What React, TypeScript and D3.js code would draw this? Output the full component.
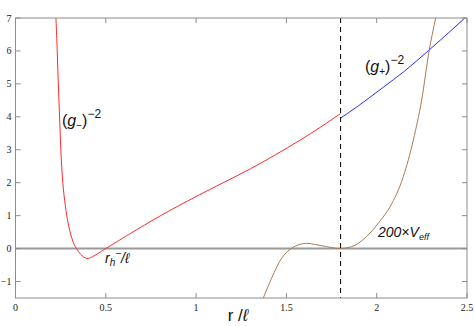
import React, { useMemo } from 'react';
import * as d3 from 'd3';

const W = 475;
const H = 326;
const margin = { left: 15.5, right: 8, top: 18, bottom: 28 };

// r / ℓ values and curve values
const gMinus: [number, number][] = [
  [0.224, 7], [0.231, 6], [0.237, 5], [0.244, 4], [0.251, 3], [0.262, 2],
  [0.276, 1.3], [0.292, 0.75], [0.31, 0.35], [0.325, 0.12], [0.338, 0],
  [0.36, -0.17], [0.395, -0.3], [0.435, -0.22], [0.47, -0.1], [0.5, 0],
  [0.625, 0.42], [0.81, 1.02], [1.0, 1.58], [1.15, 2.0], [1.3, 2.42],
  [1.44, 2.85], [1.575, 3.29], [1.69, 3.69], [1.8, 4.1],
];
const gPlus: [number, number][] = [
  [1.8, 3.96], [1.9, 4.34], [2.037, 4.9], [2.15, 5.37], [2.295, 6.05],
  [2.4, 6.56], [2.5, 7.06],
];
const vEff: [number, number][] = [
  [1.372, -1.5], [1.418, -0.9], [1.474, -0.29], [1.529, 0.01], [1.57, 0.12],
  [1.612, 0.16], [1.655, 0.13], [1.695, 0.09], [1.75, 0.03], [1.8, 0],
  [1.84, 0.03], [1.88, 0.1], [1.92, 0.25], [1.963, 0.47], [2.02, 0.85],
  [2.074, 1.27], [2.147, 2.18], [2.203, 3.3], [2.249, 4.51], [2.291, 6.03],
  [2.327, 7.0],
];
const horizon = 1.8;
const xTicks = [0, 0.5, 1, 1.5, 2, 2.5];
const yTicks = [-1, 0, 1, 2, 3, 4, 5, 6, 7];

const App = () => {
  const x = d3.scaleLinear().domain([0, 2.5]).range([margin.left, W - margin.right]);
  const y = d3.scaleLinear().domain([-1.5, 7]).range([H - margin.bottom, margin.top]);

  const smooth = useMemo(
    () =>
      d3
        .line<[number, number]>()
        .x((d) => x(d[0]))
        .y((d) => y(d[1]))
        .curve(d3.curveCatmullRom.alpha(0.5)),
    []
  );
  const mono = useMemo(
    () =>
      d3
        .line<[number, number]>()
        .x((d) => x(d[0]))
        .y((d) => y(d[1]))
        .curve(d3.curveMonotoneX),
    []
  );

  const [x0, x1] = x.range();
  const [y0, y1] = y.range();
  const axisColor = '#8c8c8c';
  const tick = 5;

  return (
    <div style={{ position: 'absolute', left: 0, top: 0 }}>
      <svg width={W} height={H} style={{ display: 'block', background: '#fff' }}>
        <defs>
          <clipPath id="plot">
            <rect x={x0} y={y1} width={x1 - x0} height={y0 - y1} />
          </clipPath>
        </defs>

        {/* zero line */}
        <line x1={x0} x2={x1} y1={y(0)} y2={y(0)} stroke="#9a9a9a" strokeWidth={2} />

        <g clipPath="url(#plot)" fill="none">
          <path d={smooth(gMinus) || ''} stroke="#ff2a2a" strokeWidth={1} />
          <path d={mono(gPlus) || ''} stroke="#2a2aff" strokeWidth={1} />
          <path d={mono(vEff) || ''} stroke="#a87a55" strokeWidth={1} />
        </g>

        <line
          x1={x(horizon)}
          x2={x(horizon)}
          y1={y1}
          y2={y0}
          stroke="#000"
          strokeWidth={1}
          strokeDasharray="5,4"
        />

        {/* box and ticks */}
        <rect x={x0} y={y1} width={x1 - x0} height={y0 - y1} fill="none" stroke={axisColor} strokeWidth={1} />
        {xTicks.map((t) => (
          <g key={'x' + t}>
            <line x1={x(t)} x2={x(t)} y1={y0} y2={y0 - tick} stroke={axisColor} />
            <line x1={x(t)} x2={x(t)} y1={y1} y2={y1 + tick} stroke={axisColor} />
            <text
              x={x(t)}
              y={y0 + 13}
              textAnchor="middle"
              fontFamily="'Liberation Serif', serif"
              fontSize={10}
              fill="#222"
            >
              {t}
            </text>
          </g>
        ))}
        {yTicks.map((t) => (
          <g key={'y' + t}>
            <line x1={x0} x2={x0 + tick} y1={y(t)} y2={y(t)} stroke={axisColor} />
            <line x1={x1} x2={x1 - tick} y1={y(t)} y2={y(t)} stroke={axisColor} />
            <text
              x={x0 - 4}
              y={y(t) + 3.5}
              textAnchor="end"
              fontFamily="'Liberation Serif', serif"
              fontSize={10}
              fill="#222"
            >
              {t < 0 ? '\u2212' + Math.abs(t) : t}
            </text>
          </g>
        ))}

        {/* axis label */}
        <text x={238} y={321} textAnchor="middle" fontFamily="'Liberation Sans', Arial, sans-serif" fontSize={17} fill="#111">
          r /<tspan fontStyle="italic">ℓ</tspan>
        </text>

        {/* annotations */}
        <g fontFamily="'Liberation Sans', Arial, sans-serif" fill="#111">
          <text x={62} y={126} fontSize={16}>
            (<tspan fontStyle="italic">g</tspan>
            <tspan fontSize={10} dy={3}>−</tspan>
            <tspan dy={-3}>)</tspan>
            <tspan fontSize={12} dy={-8}>−2</tspan>
          </text>
          <text x={365} y={72} fontSize={16}>
            (<tspan fontStyle="italic">g</tspan>
            <tspan fontSize={10} dy={3}>+</tspan>
            <tspan dy={-3}>)</tspan>
            <tspan fontSize={12} dy={-8}>−2</tspan>
          </text>
          <text x={105} y={263} fontSize={14} fontStyle="italic">
            r<tspan fontSize={10} dy={3}>h</tspan>
            <tspan fontSize={10} dy={-9}>−</tspan>
            <tspan dy={6}>/ℓ</tspan>
          </text>
          <text x={378} y={237} fontSize={14} fontStyle="italic">
            200×V<tspan fontSize={9} dy={3}>eff</tspan>
          </text>
        </g>
      </svg>
    </div>
  );
};

export default App;
